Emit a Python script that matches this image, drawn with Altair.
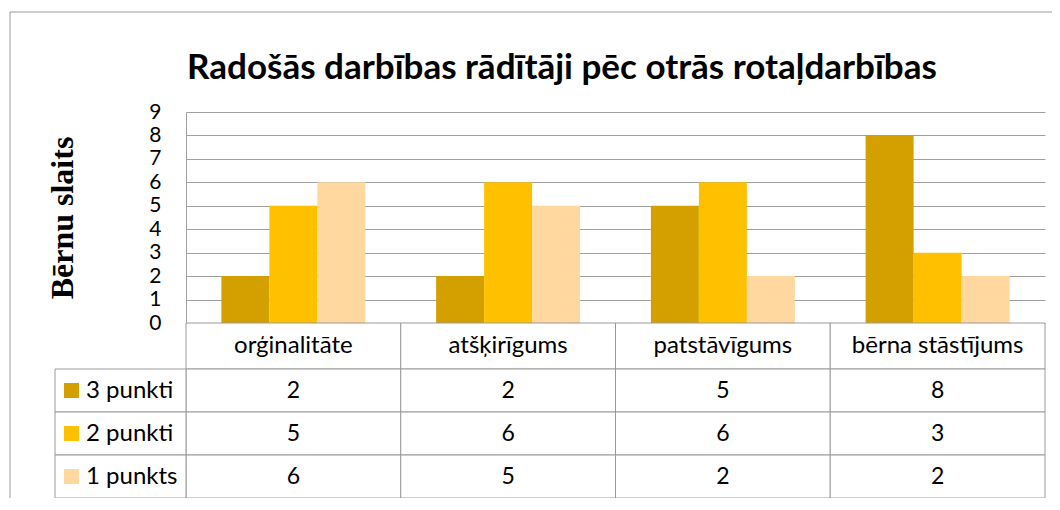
import altair as alt
import pandas as pd

categories = ["orģinalitāte", "atšķirīgums", "patstāvīgums", "bērna stāstījums"]
series = ["3 punkti", "2 punkti", "1 punkts"]
values_3 = [2, 2, 5, 8]
values_2 = [5, 6, 6, 3]
values_1 = [6, 5, 2, 2]
colors = ["#D4A000", "#FFC000", "#FFD8A0"]
y_ticks = list(range(10))
title_text = "Radošās darbības rādītāji pēc otrās rotaļdarbības"
y_title = "Bērnu slaits"

rows = []
for s, vals in zip(series, [values_3, values_2, values_1]):
    for c, v in zip(categories, vals):
        rows.append({"category": c, "series": s, "value": v})
df = pd.DataFrame(rows)
cat_df = pd.DataFrame({"category": categories})
ser_df = pd.DataFrame({"series": series})
one = pd.DataFrame({"a": [0]})

W, H = 859, 211
GRAY = "#A0A0A0"
TGRAY = "#9A9A9A"
FONT = "Lato"

xscale = alt.Scale(domain=categories, paddingInner=0, paddingOuter=0)
color_scale = alt.Scale(domain=series, range=colors)
X = alt.X("category:N", scale=xscale, axis=None)

bars = alt.Chart(df).mark_bar().encode(
    x=X,
    xOffset=alt.XOffset("series:N", scale=alt.Scale(domain=series, paddingInner=0, paddingOuter=0.737)),
    y=alt.Y("value:Q", scale=alt.Scale(domain=[0, 9], nice=False),
            axis=alt.Axis(values=y_ticks, grid=True, gridColor=GRAY, gridWidth=1,
                          domain=True, domainColor=GRAY, ticks=False,
                          labelFont=FONT, labelFontSize=21, labelColor="black", labelPadding=25,
                          title=y_title, titleFont="Liberation Serif", titleFontSize=32,
                          titleFontWeight="bold", titleColor="black", titleAngle=270,
                          titleX=-124, titleY=105.5, titleAlign="center", titleBaseline="middle")),
    color=alt.Color("series:N", scale=color_scale, legend=None),
)

layers = [bars]

# table header
layers.append(alt.Chart(cat_df).mark_rect(fill="white", stroke=TGRAY, strokeWidth=1).encode(
    x=X, y=alt.value(211), y2=alt.value(257)))
layers.append(alt.Chart(cat_df).mark_text(font=FONT, fontSize=24, color="black", baseline="middle").encode(
    x=X, y=alt.value(234), text="category:N"))

row_tops = [257, 300, 343]
row_h = 43
for s, top in zip(series, row_tops):
    mid = top + row_h / 2
    layers.append(alt.Chart(df).transform_filter(alt.datum.series == s).mark_rect(
        fill="white", stroke=TGRAY, strokeWidth=1).encode(
        x=X, y=alt.value(top), y2=alt.value(top + row_h)))
    layers.append(alt.Chart(df).transform_filter(alt.datum.series == s).mark_text(
        font=FONT, fontSize=23, color="black", baseline="middle").encode(
        x=X, y=alt.value(mid), text="value:Q"))
    layers.append(alt.Chart(ser_df).transform_filter(alt.datum.series == s).mark_rect(
        fill="white", stroke=TGRAY, strokeWidth=1).encode(
        x=alt.value(-131), x2=alt.value(0), y=alt.value(top), y2=alt.value(top + row_h)))
    layers.append(alt.Chart(ser_df).transform_filter(alt.datum.series == s).mark_square(
        size=225, opacity=1).encode(
        x=alt.value(-114.5), y=alt.value(mid),
        color=alt.Color("series:N", scale=color_scale, legend=None)))
    layers.append(alt.Chart(ser_df).transform_filter(alt.datum.series == s).mark_text(
        font=FONT, fontSize=24, color="black", align="left", baseline="middle").encode(
        x=alt.value(-100), y=alt.value(mid), text="series:N"))

# title
layers.append(alt.Chart(one).mark_text(font=FONT, fontSize=35, fontWeight="bold", color="black",
                                       align="center", baseline="alphabetic").encode(
    x=alt.value(376), y=alt.value(-33), text=alt.value(title_text)))

# outer frame
layers.append(alt.Chart(one).mark_rule(color=TGRAY, strokeWidth=1).encode(
    x=alt.value(-176), x2=alt.value(866), y=alt.value(-100)))
layers.append(alt.Chart(one).mark_rule(color=TGRAY, strokeWidth=1).encode(
    x=alt.value(-176), y=alt.value(-100), y2=alt.value(386)))

chart = alt.layer(*layers).properties(
    width=W, height=H,
    autosize=alt.AutoSizeParams(type="none"),
    padding={"left": 178, "top": 104, "right": 7, "bottom": 175},
    background="white",
).configure_view(strokeWidth=0)

chart.save("out.html", embed_options={"renderer": "svg", "actions": False})
